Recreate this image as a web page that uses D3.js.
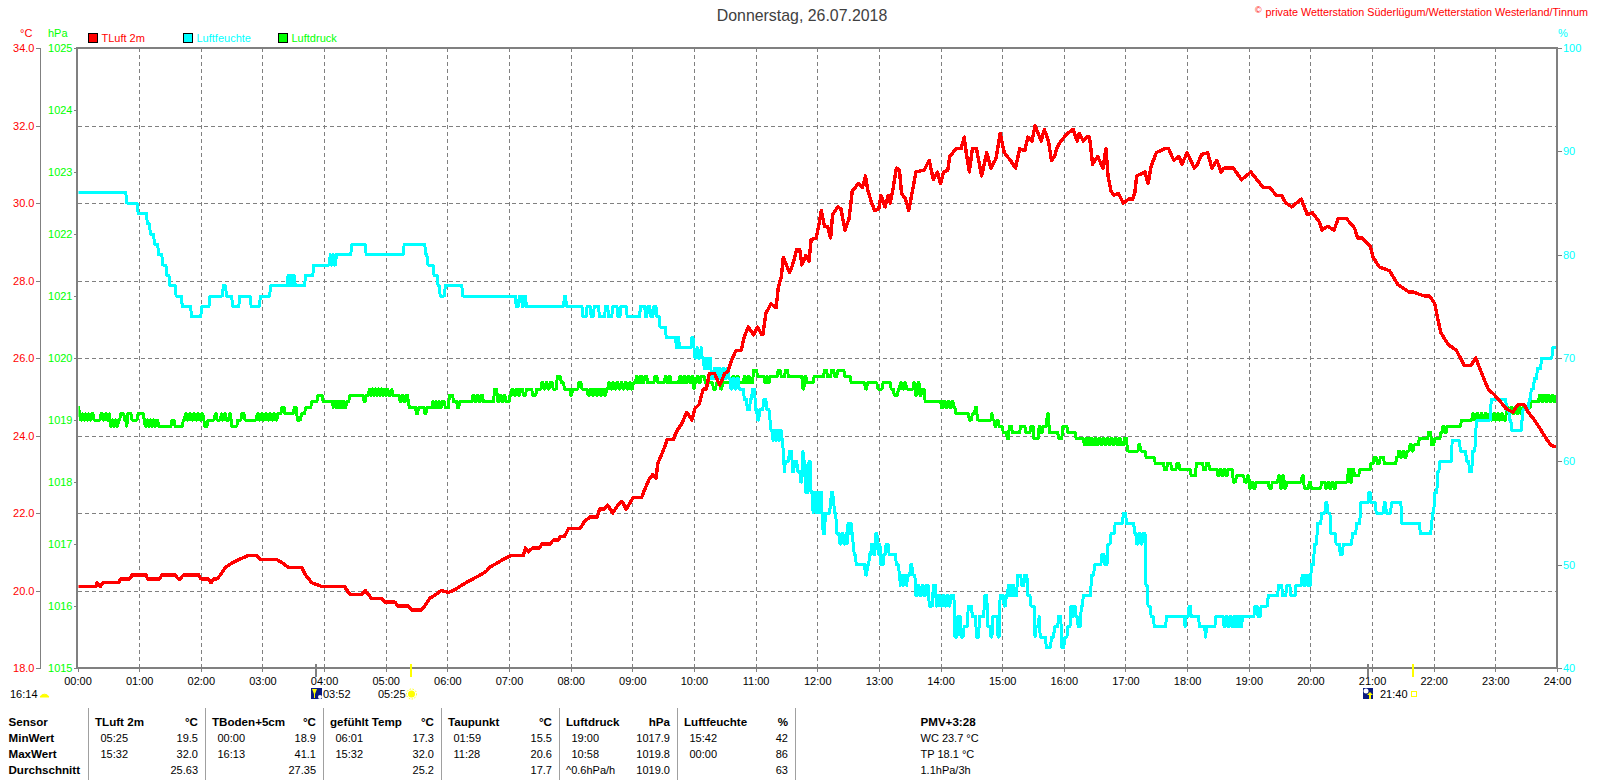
<!DOCTYPE html>
<html><head><meta charset="utf-8">
<script src="https://cdn.jsdelivr.net/npm/d3@7/dist/d3.min.js"></script>
<style>html,body{margin:0;padding:0;background:#fff;overflow:hidden}svg{display:block}text{font-family:"Liberation Sans",Arial,sans-serif;font-size:11px}</style>
</head><body><svg id="c" width="1600" height="780"></svg>
<script>
// ---- chart values: [minutes after midnight, reading] ----
const tempTime=[0,18,19,22,25,40,42,51,53,67,68,80,82,95,98,100,103,118,120,127,130,133,136,139,144,150,157,166,174,178,194,200,205,218,222,228,238,255,260,265,277,280,286,296,299,309,312,322,325,335,338,343,349,354,361,366,372,378,385,392,398,401,408,414,422,434,436,439,443,450,452,460,463,468,470,474,478,489,494,499,506,508,513,516,521,526,530,534,541,549,552,556,560,563,565,570,574,580,583,588,593,598,601,605,609,612,615,620,625,630,633,636,641,646,649,653,658,662,666,667,670,675,680,682,685,687,690,693,696,700,703,705,709,712,714,719,722,724,727,730,733,735,740,743,747,751,754,760,764,767,769,773,776,780,782,786,789,791,794,797,800,802,806,809,814,816,824,829,833,837,840,843,847,849,855,860,863,865,868,871,875,880,885,889,894,898,902,908,913,917,922,925,929,932,938,941,945,948,951,953,957,964,969,973,975,979,982,985,988,993,998,1001,1003,1006,1009,1013,1018,1023,1027,1029,1031,1039,1042,1045,1050,1058,1062,1067,1072,1075,1080,1087,1090,1094,1100,1104,1109,1113,1116,1125,1133,1142,1154,1160,1167,1172,1176,1182,1191,1197,1202,1209,1211,1217,1223,1227,1235,1243,1246,1250,1258,1261,1267,1277,1285,1296,1300,1311,1316,1321,1324,1327,1334,1342,1350,1356,1361,1366,1373,1379,1389,1390,1397,1402,1408,1412,1418,1423,1430,1434,1439];
const tempValue=[20.1,20.1,20.2,20.1,20.2,20.2,20.3,20.3,20.4,20.4,20.3,20.3,20.4,20.4,20.3,20.3,20.4,20.4,20.3,20.3,20.2,20.3,20.3,20.4,20.6,20.7,20.8,20.9,20.9,20.8,20.8,20.7,20.6,20.6,20.4,20.2,20.1,20.1,20.1,19.9,19.9,20,19.8,19.8,19.7,19.7,19.6,19.6,19.5,19.5,19.6,19.8,19.9,20,19.95,20,20.1,20.2,20.3,20.4,20.5,20.6,20.7,20.8,20.9,20.9,21.1,21,21.1,21.1,21.2,21.2,21.3,21.3,21.4,21.4,21.6,21.6,21.8,21.9,21.9,22.1,22.1,22.2,22,22.2,22.3,22.1,22.4,22.4,22.6,22.85,23,22.9,23.3,23.6,23.9,23.9,24.1,24.3,24.6,24.4,24.7,24.8,25.2,25.2,25.6,25.6,25.3,25.6,25.65,25.9,26.2,26.2,26.55,26.8,26.6,26.8,26.6,26.6,27.15,27.4,27.3,27.8,28.1,28.6,28.4,28.2,28.4,28.8,28.8,28.4,28.65,28.5,29.05,29.1,29.5,29.8,29.4,29.4,29.1,29.7,29.9,29.85,29.3,29.6,30.3,30.5,30.4,30.7,30.35,30,29.8,29.85,30.2,29.9,30.2,30,30.4,30.9,30.85,30.25,30.1,29.8,30.5,30.8,30.85,31.1,30.6,30.8,30.5,30.8,30.85,31.2,31.4,31.4,31.7,31.3,30.8,31.4,31.4,30.7,31.3,30.9,31.15,31.8,31.3,31.1,30.9,31.4,31.35,31.7,31.6,32,31.6,31.9,31.6,31.1,31.2,31.4,31.6,31.8,31.9,31.6,31.8,31.6,31.7,31.7,31,31.2,30.9,31.4,30.7,30.3,30.2,30.25,30,30.1,30.1,30.25,30.7,30.8,30.5,30.95,31.3,31.4,31.4,31.1,31.2,31,31.3,30.9,31,31.25,31.3,30.9,31.1,30.8,30.9,30.9,30.6,30.8,30.4,30.4,30.2,30.2,30,29.9,30.1,29.7,29.75,29.5,29.3,29.4,29.3,29.6,29.6,29.35,29.1,29.1,28.9,28.6,28.35,28.25,27.9,27.7,27.7,27.6,27.6,27.4,27,26.65,26.35,26.2,25.8,25.8,26,25.65,25.2,25.05,24.75,24.7,24.6,24.8,24.8,24.6,24.4,24.2,23.9,23.75,23.7,23.7];

const humReadings=[[0,86],[48,85],[59,84],[68,83],[71,82],[75,81],[79,80],[83,79],[87,78],[90,77],[96,76],[102,75],[111,74],[121,75],[129,76],[142,77],[145,76],[151,75],[158,76],[169,75],[178,76],[188,77],[205,78],[206,77],[207,78],[208,77],[209,78],[210,77],[211,78],[212,77],[222,78],[230,79],[246,80],[247,79],[249,80],[250,79],[252,80],[267,81],[281,80],[318,81],[339,80],[341,79],[347,78],[351,77],[353,76],[358,77],[375,76],[427,75],[430,76],[433,75],[435,76],[437,75],[474,76],[476,75],[492,74],[496,75],[500,74],[503,75],[508,74],[514,75],[517,74],[521,75],[526,74],[529,75],[535,74],[548,75],[553,74],[555,75],[558,74],[561,75],[564,74],[567,73],[573,72],[583,71],[584,72],[586,71],[598,72],[600,71],[601,70],[603,71],[604,70],[607,71],[608,70],[610,69],[612,70],[613,69],[615,70],[617,68],[620,69],[622,68],[624,69],[626,68],[628,69],[630,68],[632,69],[634,68],[636,67],[638,68],[640,67],[642,68],[644,67],[649,66],[652,65],[655,66],[657,67],[660,65],[662,64],[664,65],[668,66],[671,65],[674,64],[675,63],[677,62],[678,63],[680,62],[681,63],[683,62],[684,63],[686,62],[687,61],[688,59],[689,60],[693,61],[696,59],[698,60],[701,59],[704,58],[706,61],[707,60],[709,57],[712,60],[714,57],[716,55],[717,57],[719,55],[720,57],[722,55],[723,57],[725,54],[726,53],[728,55],[733,56],[734,57],[736,56],[737,55],[739,53],[742,52],[744,53],[746,52],[748,53],[749,52],[750,54],[752,53],[753,54],[754,53],[755,52],[756,51],[758,50],[767,49],[769,50],[771,51],[773,52],[775,51],[777,53],[779,52],[780,51],[781,52],[782,50],[785,51],[787,52],[790,51],[797,50],[800,49],[801,48],[802,49],[804,48],[805,49],[807,48],[808,49],[811,50],[813,49],[816,47],[818,48],[820,47],[822,48],[824,47],[826,48],[829,46],[833,48],[836,46],[838,47],[840,46],[842,47],[844,46],[846,47],[848,46],[850,47],[854,43],[857,45],[860,43],[863,44],[867,46],[871,45],[875,43],[878,45],[883,47],[886,44],[889,43],[891,45],[896,43],[898,47],[902,46],[904,47],[906,48],[908,47],[910,48],[912,47],[915,49],[919,48],[922,49],[925,47],[928,46],[932,43],[933,44],[936,45],[937,43],[940,43],[943,42],[948,43],[951,44],[955,45],[958,42],[961,43],[964,44],[967,46],[969,45],[970,46],[972,45],[974,44],[977,46],[979,47],[987,49],[990,50],[997,51],[1000,50],[1003,52],[1006,53],[1010,54],[1018,55],[1021,54],[1029,53],[1031,52],[1033,53],[1035,52],[1037,53],[1040,48],[1042,46],[1045,45],[1048,44],[1060,45],[1078,44],[1079,45],[1082,46],[1084,45],[1092,44],[1098,43],[1099,44],[1108,45],[1116,44],[1118,45],[1120,44],[1122,45],[1124,44],[1126,45],[1128,44],[1130,45],[1132,44],[1134,45],[1146,46],[1149,45],[1152,46],[1159,47],[1169,48],[1173,47],[1177,48],[1181,47],[1186,48],[1192,49],[1194,48],[1196,49],[1198,48],[1201,50],[1204,52],[1207,54],[1211,55],[1215,56],[1217,55],[1220,53],[1225,52],[1229,51],[1232,52],[1241,53],[1245,54],[1249,56],[1257,57],[1259,56],[1264,55],[1272,56],[1274,55],[1279,56],[1289,54],[1307,53],[1318,54],[1319,55],[1321,57],[1324,59],[1326,60],[1338,62],[1346,61],[1352,60],[1355,59],[1358,61],[1361,63],[1362,64],[1376,66],[1391,65],[1394,64],[1396,63],[1406,64],[1407,65],[1413,66],[1415,67],[1418,68],[1421,69],[1425,70],[1436,71],[1439,71]];

const presReadings=[[0,1019.2],[2,1019.1],[3,1019],[5,1019.1],[6,1019],[8,1019.1],[9,1019],[11,1019.1],[12,1019],[14,1019.1],[16,1019],[23,1019.1],[25,1019],[27,1019.1],[29,1019],[31,1019.1],[32,1018.9],[34,1019],[35,1018.9],[37,1019],[38,1018.9],[40,1019],[42,1019.1],[46,1019],[48,1018.9],[49,1019.1],[53,1019],[59,1019.1],[65,1019],[66,1018.9],[68,1019],[69,1018.9],[71,1019],[72,1018.9],[74,1019],[75,1018.9],[77,1019],[79,1018.9],[87,1018.9],[92,1019],[95,1018.9],[98,1018.9],[103,1019],[105,1019.1],[107,1019],[109,1019.1],[111,1019],[113,1019.1],[115,1019],[117,1019.1],[119,1019],[121,1019.1],[123,1019],[124,1018.9],[127,1019],[134,1019.1],[136,1019],[140,1019.1],[141,1019],[143,1019.1],[145,1019],[148,1019.1],[150,1018.9],[156,1019],[160,1019.1],[163,1019],[175,1019.1],[177,1019],[179,1019.1],[181,1019],[183,1019.1],[185,1019],[187,1019.1],[189,1019],[191,1019.1],[193,1019],[195,1019.1],[199,1019.2],[202,1019.1],[211,1019.2],[214,1019],[218,1019.1],[222,1019.2],[228,1019.3],[234,1019.4],[239,1019.3],[249,1019.2],[250,1019.3],[252,1019.2],[254,1019.3],[256,1019.2],[258,1019.3],[260,1019.2],[262,1019.3],[265,1019.4],[279,1019.3],[281,1019.4],[284,1019.5],[285,1019.4],[287,1019.5],[288,1019.4],[290,1019.5],[291,1019.4],[293,1019.5],[294,1019.4],[296,1019.5],[297,1019.4],[299,1019.5],[300,1019.4],[302,1019.5],[303,1019.4],[306,1019.5],[307,1019.4],[314,1019.3],[316,1019.4],[318,1019.3],[320,1019.4],[322,1019.3],[323,1019.2],[330,1019.1],[332,1019.2],[338,1019.1],[340,1019.2],[346,1019.3],[347,1019.2],[349,1019.3],[350,1019.2],[352,1019.3],[353,1019.2],[355,1019.3],[358,1019.2],[362,1019.4],[366,1019.3],[370,1019.2],[372,1019.3],[385,1019.4],[387,1019.3],[389,1019.4],[391,1019.3],[393,1019.4],[395,1019.3],[406,1019.5],[409,1019.3],[411,1019.4],[413,1019.3],[415,1019.4],[417,1019.3],[421,1019.4],[423,1019.5],[425,1019.4],[427,1019.5],[429,1019.4],[431,1019.5],[434,1019.4],[437,1019.5],[443,1019.4],[447,1019.5],[452,1019.6],[454,1019.5],[456,1019.6],[458,1019.5],[460,1019.6],[463,1019.5],[467,1019.7],[471,1019.6],[474,1019.5],[480,1019.4],[482,1019.5],[488,1019.6],[491,1019.5],[497,1019.4],[499,1019.5],[501,1019.4],[503,1019.5],[505,1019.4],[507,1019.5],[509,1019.4],[511,1019.5],[513,1019.4],[515,1019.5],[517,1019.6],[519,1019.5],[521,1019.6],[523,1019.5],[525,1019.6],[527,1019.5],[529,1019.6],[531,1019.5],[533,1019.6],[535,1019.5],[537,1019.6],[539,1019.5],[541,1019.6],[544,1019.7],[546,1019.6],[548,1019.7],[550,1019.6],[552,1019.7],[555,1019.6],[562,1019.7],[565,1019.6],[572,1019.7],[574,1019.6],[576,1019.7],[578,1019.6],[586,1019.7],[588,1019.6],[590,1019.7],[592,1019.6],[594,1019.7],[596,1019.6],[598,1019.7],[600,1019.5],[601,1019.6],[603,1019.7],[605,1019.6],[607,1019.7],[611,1019.6],[619,1019.5],[622,1019.6],[626,1019.5],[628,1019.6],[638,1019.7],[640,1019.6],[642,1019.7],[644,1019.6],[649,1019.7],[651,1019.6],[653,1019.7],[655,1019.6],[658,1019.8],[662,1019.7],[669,1019.6],[671,1019.7],[672,1019.6],[674,1019.7],[682,1019.8],[685,1019.7],[689,1019.8],[692,1019.7],[706,1019.5],[708,1019.7],[710,1019.6],[713,1019.6],[717,1019.7],[727,1019.8],[730,1019.7],[734,1019.8],[737,1019.7],[740,1019.8],[747,1019.7],[753,1019.6],[767,1019.5],[769,1019.6],[779,1019.5],[784,1019.6],[792,1019.5],[795,1019.4],[799,1019.5],[801,1019.6],[803,1019.5],[805,1019.6],[807,1019.5],[814,1019.6],[816,1019.4],[818,1019.6],[820,1019.4],[822,1019.5],[825,1019.3],[841,1019.2],[843,1019.3],[845,1019.2],[847,1019.3],[849,1019.2],[851,1019.3],[853,1019.2],[855,1019.1],[868,1019],[871,1019.1],[874,1019.2],[876,1019],[890,1019.1],[891,1019],[893,1018.9],[895,1019],[897,1018.9],[901,1018.8],[905,1018.7],[907,1018.9],[910,1018.8],[918,1018.9],[923,1018.8],[928,1018.9],[931,1018.7],[936,1018.9],[938,1018.8],[940,1018.9],[944,1019.1],[946,1018.8],[955,1018.7],[959,1018.9],[964,1018.8],[972,1018.7],[980,1018.6],[982,1018.7],[984,1018.6],[986,1018.7],[988,1018.6],[990,1018.7],[992,1018.6],[994,1018.7],[996,1018.6],[998,1018.7],[1000,1018.6],[1002,1018.7],[1004,1018.6],[1006,1018.7],[1008,1018.6],[1010,1018.7],[1012,1018.6],[1014,1018.7],[1016,1018.6],[1019,1018.7],[1022,1018.5],[1033,1018.6],[1035,1018.5],[1040,1018.4],[1049,1018.3],[1058,1018.2],[1061,1018.3],[1065,1018.2],[1070,1018.3],[1073,1018.2],[1084,1018.1],[1089,1018.3],[1096,1018.2],[1099,1018.3],[1102,1018.2],[1110,1018.1],[1112,1018.2],[1114,1018.1],[1116,1018.2],[1118,1018.1],[1120,1018.2],[1125,1018],[1128,1018.1],[1136,1018],[1139,1018.1],[1141,1017.9],[1143,1018],[1145,1017.9],[1147,1018],[1160,1017.9],[1163,1018],[1169,1018.1],[1171,1017.9],[1173,1018.1],[1175,1017.9],[1177,1018],[1192,1018.1],[1194,1017.9],[1199,1018],[1201,1017.9],[1211,1018],[1215,1017.9],[1217,1018],[1219,1017.9],[1221,1018],[1223,1017.9],[1225,1018],[1230,1018],[1237,1018.2],[1239,1018],[1241,1018.2],[1243,1018.1],[1248,1018.2],[1259,1018.3],[1262,1018.4],[1265,1018.3],[1268,1018.4],[1270,1018.4],[1272,1018.3],[1275,1018.3],[1284,1018.4],[1286,1018.5],[1288,1018.4],[1290,1018.5],[1292,1018.4],[1294,1018.5],[1297,1018.6],[1299,1018.5],[1301,1018.6],[1306,1018.7],[1315,1018.8],[1318,1018.6],[1321,1018.7],[1327,1018.8],[1329,1018.9],[1331,1018.8],[1333,1018.9],[1347,1019],[1358,1019.1],[1360,1019],[1362,1019.1],[1364,1019],[1366,1019.1],[1368,1019],[1370,1019.1],[1372,1019],[1374,1019.1],[1376,1019],[1378,1019.1],[1380,1019],[1382,1019.1],[1384,1019],[1386,1019.1],[1388,1019],[1391,1019.2],[1393,1019.1],[1395,1019.2],[1397,1019.1],[1399,1019.2],[1401,1019.1],[1403,1019.2],[1405,1019.1],[1407,1019.2],[1412,1019.2],[1415,1019.3],[1423,1019.4],[1425,1019.3],[1427,1019.4],[1429,1019.3],[1431,1019.4],[1433,1019.3],[1435,1019.4],[1437,1019.3],[1439,1019.4]];

const hourLabels=["00:00","01:00","02:00","03:00","04:00","05:00","06:00","07:00","08:00","09:00","10:00","11:00","12:00","13:00","14:00","15:00","16:00","17:00","18:00","19:00","20:00","21:00","22:00","23:00","24:00"];
const tempTicks=[18,20,22,24,26,28,30,32,34];
const presTicks=[1015,1016,1017,1018,1019,1020,1021,1022,1023,1024,1025];
const humTicks=[40,50,60,70,80,90,100];
const sensorRows=["Sensor","MinWert","MaxWert","Durchschnitt"];
const colHeads=["TLuft 2m","TBoden+5cm","gefühlt Temp","Taupunkt","Luftdruck","Luftfeuchte"];
const colUnits=["°C","°C","°C","°C","hPa","%"];
const minTimes=["05:25","00:00","06:01","01:59","19:00","15:42"];
const minVals=["19.5","18.9","17.3","15.5","1017.9","42"];
const maxTimes=["15:32","16:13","15:32","11:28","10:58","00:00"];
const maxVals=["32.0","41.1","32.0","20.6","1019.8","86"];
const avgVals=["25.63","27.35","25.2","17.7","1019.0","63"];
const extraLines=["PMV+3:28","WC 23.7 °C","TP 18.1 °C","1.1hPa/3h"];

const RED="#ff0000",GREEN="#00ff00",CYAN="#00ffff",GREY="#808080";
const svg=d3.select("#c");
const L=77.5,R=1557,T=48,B=668;
const x=d3.scaleLinear().domain([0,1440]).range([L,R]);
const yT=d3.scaleLinear().domain([18,34]).range([B,T]);
const yP=d3.scaleLinear().domain([1015,1025]).range([B,T]);
const yH=d3.scaleLinear().domain([40,100]).range([B,T]);

// grid
const grid=svg.append("g").attr("stroke",GREY).attr("stroke-width",1).attr("stroke-dasharray","4,3").attr("shape-rendering","crispEdges");
grid.selectAll(".v").data(d3.range(1,24)).join("line").attr("x1",d=>Math.round(x(d*60))+.5).attr("x2",d=>Math.round(x(d*60))+.5).attr("y1",T).attr("y2",B);
grid.selectAll(".h").data(tempTicks.slice(1,-1)).join("line").attr("x1",L).attr("x2",R).attr("y1",d=>Math.round(yT(d))+.5).attr("y2",d=>Math.round(yT(d))+.5);

// axes
function styleAxis(g,col){g.attr("shape-rendering","crispEdges");g.select(".domain").remove();g.selectAll("line").attr("stroke",GREY);g.selectAll("text").attr("fill",col).style("font-size","11px").style("font-family",'"Liberation Sans",Arial,sans-serif');}
svg.append("g").attr("transform",`translate(41,0)`).call(d3.axisLeft(yT).tickValues(tempTicks).tickFormat(d3.format(".1f")).tickSize(5).tickPadding(1.5)).call(g=>styleAxis(g,RED));
svg.append("g").attr("transform",`translate(${L},0)`).call(d3.axisLeft(yP).tickValues(presTicks).tickFormat(d3.format("d")).tickSize(4).tickPadding(1)).call(g=>styleAxis(g,GREEN));
svg.append("g").attr("transform",`translate(${R},0)`).call(d3.axisRight(yH).tickValues(humTicks).tickFormat(d3.format("d")).tickSize(5).tickPadding(1)).call(g=>styleAxis(g,CYAN));
svg.append("g").attr("transform",`translate(0,${B})`).call(d3.axisBottom(x).tickValues(d3.range(0,1441,60)).tickFormat((d,i)=>hourLabels[i]).tickSize(4).tickPadding(5)).call(g=>styleAxis(g,"#000"));
svg.append("line").attr("x1",40.5).attr("x2",40.5).attr("y1",T).attr("y2",B).attr("stroke",GREY).attr("stroke-width",1).attr("shape-rendering","crispEdges");
svg.append("rect").attr("x",77).attr("y",T).attr("width",1480).attr("height",B-T).attr("fill","none").attr("stroke",GREY).attr("stroke-width",2).attr("shape-rendering","crispEdges");

// day markers
svg.append("g").attr("shape-rendering","crispEdges").selectAll("rect").data([[3*60+52,GREY],[5*60+25,"#ffff00"],[21*60+0,GREY],[21*60+40,"#ffff00"]]).join("rect")
 .attr("x",d=>d[0]==1260?1366.5:x(d[0])-1).attr("y",664).attr("width",2).attr("height",13).attr("fill",d=>d[1]);

// series: each reading is held until one minute before the next reading
function held(readings){
  const out=[];
  readings.forEach((r,i)=>{
    if(i>0&&r[0]-1>readings[i-1][0]) out.push([r[0]-1,readings[i-1][1]]);
    out.push(r);
  });
  return out;
}
const clipId="plot";
svg.append("clipPath").attr("id",clipId).append("rect").attr("x",L+1).attr("y",T).attr("width",R-L-2).attr("height",B-T);
function series(points,y,col,w){
  const line=d3.line().x(d=>x(d[0])).y(d=>y(d[1]));
  svg.append("path").datum(points).attr("d",line).attr("fill","none").attr("stroke",col).attr("stroke-width",w).attr("stroke-linejoin","round").attr("shape-rendering","crispEdges").attr("clip-path",`url(#${clipId})`);
}
series(held(presReadings),yP,GREEN,3);
series(held(humReadings),yH,CYAN,3);
series(d3.zip(tempTime,tempValue),yT,RED,3.4);

// text helper
function tx(xp,yp,s,o={}){return svg.append("text").attr("x",xp).attr("y",yp).attr("fill",o.c||"#000").attr("text-anchor",o.a||"start").attr("dominant-baseline","central").style("font-weight",o.b?"700":"400").style("font-size",o.s?o.s+"px":null).text(s);}
tx(802,15,"Donnerstag, 26.07.2018",{a:"middle",c:"#404040",s:15.9});
tx(1588,12,"private Wetterstation Süderlügum/Wetterstation Westerland/Tinnum",{a:"end",c:RED,s:10.8});
tx(1255,10,"©",{c:RED,s:9});
tx(20,33,"°C",{c:RED});tx(48,33,"hPa",{c:GREEN});tx(1558,32.5,"%",{c:CYAN});
const legend=[["TLuft 2m",RED,87.5],["Luftfeuchte",CYAN,182.5],["Luftdruck",GREEN,277.5]];
legend.forEach(d=>{svg.append("rect").attr("x",d[2]+.5).attr("y",33.5).attr("width",9).attr("height",9).attr("fill",d[1]).attr("stroke","#000").attr("stroke-width",1).attr("shape-rendering","crispEdges");tx(d[2]+14,38,d[0],{c:d[1]});});

// sun row
const rowY=693.5;
tx(10,rowY,"16:14");tx(323,rowY,"03:52");tx(378,rowY,"05:25");tx(1380,rowY,"21:40");
svg.append("path").attr("d","M40,697 a5,5 0 0 1 9,0 z").attr("fill","#ffff00").attr("stroke","#ffff00");
svg.append("rect").attr("x",311).attr("y",688).attr("width",11).attr("height",11).attr("fill","#0a1a80");
svg.append("path").attr("d","M312,689 h5 l-2,5 v4 h-1 v-4 z").attr("fill","#ffff00");
svg.append("circle").attr("cx",320).attr("cy",697).attr("r",2).attr("fill","#fff");
svg.append("circle").attr("cx",411.5).attr("cy",694).attr("r",3.5).attr("fill","#ffff00");
svg.append("circle").attr("cx",411.5).attr("cy",694).attr("r",5).attr("fill","none").attr("stroke","#ffff00").attr("stroke-dasharray","1.5,1.5");
svg.append("rect").attr("x",1363).attr("y",688).attr("width",10).attr("height",11).attr("fill","#0a1a80");
svg.append("path").attr("d","M1370,692 l3,3 h-2 v4 h-2 v-4 h-2 z").attr("fill","#ffff00");
svg.append("circle").attr("cx",1366).attr("cy",691).attr("r",2.5).attr("fill","#fff");
svg.append("rect").attr("x",1411.5).attr("y",691.5).attr("width",5).attr("height",5).attr("fill","none").attr("stroke","#ffff00").attr("shape-rendering","crispEdges");

// table
const rowsY=[721.5,737.5,753.5,769.5];
const seps=[88.5,205.5,323.5,441.5,559.5,677.5,795.5];
svg.append("g").attr("stroke","#a0a0a0").attr("shape-rendering","crispEdges").selectAll("line").data(seps).join("line").attr("x1",d=>d).attr("x2",d=>d).attr("y1",708).attr("y2",780);
const B_SIZE=11.6;
sensorRows.forEach((s,i)=>tx(8.5,rowsY[i],s,{b:1,s:B_SIZE}));
colHeads.forEach((h,i)=>{
  const left=seps[i],right=seps[i+1]-7.5;
  tx(left+6.5,rowsY[0],h,{b:1,s:B_SIZE});
  tx(right,rowsY[0],colUnits[i],{b:1,a:"end",s:B_SIZE});
  tx(left+12,rowsY[1],minTimes[i]);tx(right,rowsY[1],minVals[i],{a:"end"});
  tx(left+12,rowsY[2],maxTimes[i]);tx(right,rowsY[2],maxVals[i],{a:"end"});
  tx(right,rowsY[3],avgVals[i],{a:"end"});
});
tx(566,rowsY[3],"^0.6hPa/h");
extraLines.forEach((s,i)=>tx(920.5,rowsY[i],s,{b:i==0,s:i==0?B_SIZE:null}));
</script></body></html>
